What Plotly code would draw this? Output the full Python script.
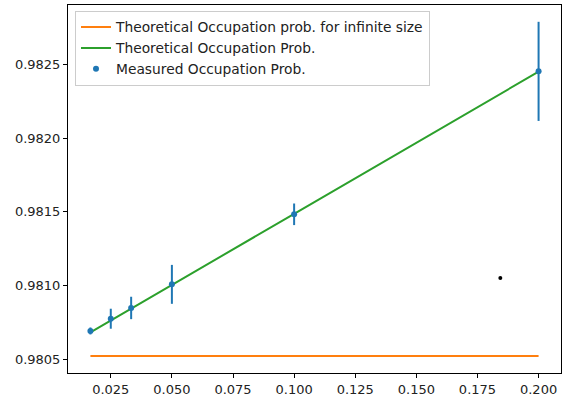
import plotly.graph_objects as go

# Data
x_vals = [1/60, 1/40, 1/30, 1/20, 1/10, 1/5]
measured = [0.980692, 0.980775, 0.980848, 0.981008, 0.981483, 0.982452]
measured_err = [0.0000237, 0.0000678, 0.000076, 0.000132, 0.0000732, 0.000336]
theory = [0.980683, 0.980763, 0.980843, 0.981004, 0.981486, 0.982450]
infinite_x = [1/60, 1/5]
infinite_y = [0.980522, 0.980522]
stray_x = [0.18435]
stray_y = [0.981051]

x_ticks = [0.025, 0.05, 0.075, 0.1, 0.125, 0.15, 0.175, 0.2]
x_tick_text = ["0.025", "0.050", "0.075", "0.100", "0.125", "0.150", "0.175", "0.200"]
y_ticks = [0.9805, 0.9810, 0.9815, 0.9820, 0.9825]
y_tick_text = ["0.9805", "0.9810", "0.9815", "0.9820", "0.9825"]

font = "DejaVu Sans"

fig = go.Figure()
fig.add_trace(go.Scatter(
    x=infinite_x, y=infinite_y, mode="lines",
    line=dict(color="#ff7f0e", width=2),
    name="Theoretical Occupation prob. for infinite size"))
fig.add_trace(go.Scatter(
    x=x_vals, y=theory, mode="lines",
    line=dict(color="#2ca02c", width=2),
    name="Theoretical Occupation Prob."))
fig.add_trace(go.Scatter(
    x=x_vals, y=measured, mode="markers",
    marker=dict(color="#1f77b4", size=6),
    error_y=dict(type="data", array=measured_err, color="#1f77b4", thickness=2, width=0),
    name="Measured Occupation Prob."))
fig.add_trace(go.Scatter(
    x=stray_x, y=stray_y, mode="markers",
    marker=dict(color="black", size=4),
    showlegend=False))

axis_common = dict(
    showline=True, linecolor="black", linewidth=1, mirror=True,
    ticks="outside", ticklen=4, tickwidth=1, tickcolor="black",
    showgrid=False, zeroline=False,
    tickfont=dict(family=font, size=13, color="#222"),
)

fig.update_layout(
    width=563, height=400,
    margin=dict(l=68, r=2, t=5, b=27),
    paper_bgcolor="white", plot_bgcolor="white",
    showlegend=True,
    legend=dict(
        x=0.0142, y=0.985, xanchor="left", yanchor="top",
        bgcolor="rgba(255,255,255,0.8)", bordercolor="#cccccc", borderwidth=1,
        font=dict(family=font, size=13.8, color="#222"),
        traceorder="normal",
    ),
    xaxis=dict(range=[0.0075, 0.20917], tickvals=x_ticks, ticktext=x_tick_text, **axis_common),
    yaxis=dict(range=[0.980407, 0.982902], tickvals=y_ticks, ticktext=y_tick_text, **axis_common),
)

fig.write_html("out.html")
